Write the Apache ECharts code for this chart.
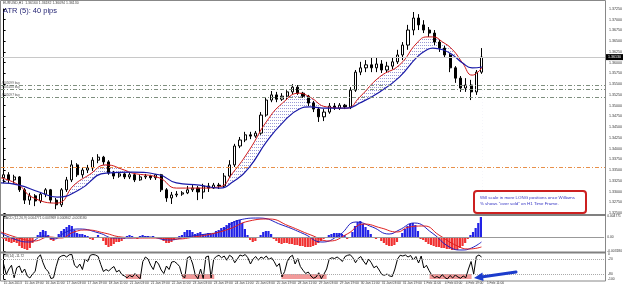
<!DOCTYPE html>
<html>
<head>
<meta charset="utf-8">
<script src="https://cdn.jsdelivr.net/npm/echarts@6/dist/echarts.min.js"></script>
<style>
html, body { margin: 0; padding: 0; background: #fff; }
#chart { width: 625px; height: 286px; }
</style>
</head>
<body>
<div id="chart"></div>
<script>
// EURUSD H1 (4h-Kerzen)
var dateLabels = ['15 Jan 2013', '15 Jan 19:00', '16 Jan 11:00', '17 Jan 03:00', '17 Jan 19:00', '18 Jan 11:00',
    '21 Jan 03:00', '21 Jan 19:00', '22 Jan 11:00', '23 Jan 03:00', '23 Jan 19:00', '24 Jan 11:00',
    '25 Jan 03:00', '25 Jan 19:00', '28 Jan 11:00', '29 Jan 03:00', '29 Jan 19:00', '30 Jan 11:00',
    '31 Jan 03:00', '31 Jan 19:00', '1 Feb 11:00', '4 Feb 03:00', '4 Feb 19:00', '5 Feb 11:00'];

// [open, close, low, high]
var candles = [
    [1.3332, 1.3339, 1.3322, 1.3345], [1.3339, 1.3327, 1.3320, 1.3345], [1.3327, 1.3334, 1.3318, 1.3339], [1.3334, 1.3304, 1.3299, 1.3336],
    [1.3304, 1.3280, 1.3271, 1.3308], [1.3280, 1.3290, 1.3269, 1.3297], [1.3290, 1.3278, 1.3266, 1.3294], [1.3278, 1.3294, 1.3273, 1.3299],
    [1.3294, 1.3304, 1.3287, 1.3308], [1.3304, 1.3280, 1.3273, 1.3306], [1.3280, 1.3269, 1.3259, 1.3285], [1.3269, 1.3304, 1.3264, 1.3308],
    [1.3304, 1.3327, 1.3299, 1.3334], [1.3327, 1.3362, 1.3322, 1.3373], [1.3362, 1.3339, 1.3334, 1.3366], [1.3339, 1.3350, 1.3332, 1.3357],
    [1.3350, 1.3355, 1.3343, 1.3362], [1.3355, 1.3373, 1.3348, 1.3380], [1.3373, 1.3380, 1.3366, 1.3387], [1.3380, 1.3369, 1.3362, 1.3383],
    [1.3369, 1.3343, 1.3339, 1.3373], [1.3343, 1.3336, 1.3329, 1.3348], [1.3336, 1.3341, 1.3332, 1.3345], [1.3341, 1.3334, 1.3329, 1.3343],
    [1.3334, 1.3339, 1.3329, 1.3345], [1.3339, 1.3327, 1.3322, 1.3341], [1.3327, 1.3334, 1.3325, 1.3339], [1.3334, 1.3336, 1.3329, 1.3341],
    [1.3336, 1.3332, 1.3327, 1.3339], [1.3332, 1.3339, 1.3327, 1.3341], [1.3339, 1.3304, 1.3299, 1.3341], [1.3304, 1.3285, 1.3276, 1.3308],
    [1.3285, 1.3292, 1.3271, 1.3299], [1.3292, 1.3294, 1.3287, 1.3301], [1.3294, 1.3297, 1.3290, 1.3301], [1.3297, 1.3304, 1.3294, 1.3313],
    [1.3304, 1.3308, 1.3299, 1.3315], [1.3308, 1.3299, 1.3280, 1.3313], [1.3299, 1.3313, 1.3283, 1.3318], [1.3313, 1.3308, 1.3299, 1.3320],
    [1.3308, 1.3315, 1.3306, 1.3320], [1.3315, 1.3313, 1.3306, 1.3320], [1.3313, 1.3336, 1.3308, 1.3343], [1.3336, 1.3362, 1.3332, 1.3373],
    [1.3362, 1.3406, 1.3357, 1.3411], [1.3406, 1.3420, 1.3401, 1.3427], [1.3420, 1.3432, 1.3415, 1.3439], [1.3432, 1.3429, 1.3422, 1.3439],
    [1.3429, 1.3436, 1.3425, 1.3441], [1.3436, 1.3478, 1.3432, 1.3485], [1.3478, 1.3513, 1.3474, 1.3518], [1.3513, 1.3525, 1.3508, 1.3534],
    [1.3525, 1.3515, 1.3508, 1.3532], [1.3515, 1.3522, 1.3511, 1.3529], [1.3522, 1.3532, 1.3513, 1.3536], [1.3532, 1.3543, 1.3527, 1.3550],
    [1.3543, 1.3529, 1.3525, 1.3548], [1.3529, 1.3522, 1.3518, 1.3532], [1.3522, 1.3506, 1.3499, 1.3525], [1.3506, 1.3492, 1.3485, 1.3511],
    [1.3492, 1.3474, 1.3462, 1.3497], [1.3474, 1.3485, 1.3464, 1.3492], [1.3485, 1.3499, 1.3481, 1.3506], [1.3499, 1.3494, 1.3490, 1.3506],
    [1.3494, 1.3501, 1.3490, 1.3506], [1.3501, 1.3497, 1.3492, 1.3504], [1.3497, 1.3536, 1.3492, 1.3543], [1.3536, 1.3578, 1.3532, 1.3583],
    [1.3578, 1.3588, 1.3571, 1.3602], [1.3588, 1.3595, 1.3578, 1.3606], [1.3595, 1.3588, 1.3578, 1.3611], [1.3588, 1.3597, 1.3578, 1.3613],
    [1.3597, 1.3583, 1.3576, 1.3606], [1.3583, 1.3592, 1.3576, 1.3602], [1.3592, 1.3602, 1.3585, 1.3611], [1.3602, 1.3618, 1.3597, 1.3630],
    [1.3618, 1.3641, 1.3606, 1.3648], [1.3641, 1.3676, 1.3630, 1.3688], [1.3676, 1.3704, 1.3664, 1.3718], [1.3704, 1.3688, 1.3676, 1.3713],
    [1.3688, 1.3676, 1.3669, 1.3699], [1.3676, 1.3669, 1.3660, 1.3683], [1.3669, 1.3648, 1.3641, 1.3676], [1.3648, 1.3634, 1.3625, 1.3653],
    [1.3634, 1.3618, 1.3611, 1.3639], [1.3618, 1.3588, 1.3578, 1.3622], [1.3588, 1.3564, 1.3553, 1.3592], [1.3564, 1.3541, 1.3532, 1.3569],
    [1.3541, 1.3548, 1.3532, 1.3564], [1.3548, 1.3532, 1.3513, 1.3560], [1.3532, 1.3578, 1.3525, 1.3583], [1.3578, 1.3613, 1.3574, 1.3634]
];

// gleitende Durchschnitte: [bar index, price]
var maRed = [[-0.5, 1.3332], [2.9, 1.3315], [5.4, 1.3287], [10.2, 1.3273], [13.4, 1.3315], [16.3, 1.3339], [19.5, 1.3362],
    [23, 1.3350], [24.5, 1.3343], [29.6, 1.3332], [32.9, 1.3308], [37.3, 1.3308], [41.1, 1.3311], [43.6, 1.3343],
    [46.8, 1.3397], [50, 1.3462], [53.1, 1.3506], [56.3, 1.3529], [58.3, 1.3520], [61.5, 1.3497], [65.3, 1.3494],
    [67.8, 1.3520], [71.6, 1.3567], [75.4, 1.3595], [78.7, 1.3646], [80.6, 1.3660], [81.7, 1.3660], [83.6, 1.3648],
    [85.5, 1.3630], [87.4, 1.3599], [89.2, 1.3571], [90.3, 1.3578], [91.1, 1.3590]];
var maBlue = [[-0.5, 1.3320], [2.9, 1.3315], [6.75, 1.3299], [10.2, 1.3287], [14.4, 1.3304], [19.5, 1.3343], [24.5, 1.3345],
    [29.6, 1.3339], [32.9, 1.3320], [37.3, 1.3315], [41.1, 1.3308], [43.6, 1.3322], [46.8, 1.3357], [50, 1.3415],
    [53.1, 1.3460], [56.3, 1.3492], [58.3, 1.3497], [61.5, 1.3494], [65.3, 1.3494], [67.8, 1.3506], [71.6, 1.3532],
    [75.4, 1.3567], [78.7, 1.3613], [80.6, 1.3630], [81.7, 1.3634], [83.6, 1.3630], [85.5, 1.3618], [87.4, 1.3599],
    [89.2, 1.3588], [91.1, 1.3590]];

var levelPrices = [1.3548, 1.3539, 1.3520];
var levelNames = ['#105099 buy', '#105100 buy', '#105097 buy'];
var stopPrice = 1.3357;
var lastPrice = 1.3613;

// MACD (half-bar steps)
var macdHist = [
    -0.00045, -0.00091, -0.00114, -0.00136, -0.00114, -0.00136, -0.00204, -0.0025, -0.00272, -0.00295,
    -0.0025, -0.00136, -0.00023, 0.00045, 0.00114, 0.00159, 0.00136, 0.00045, -0.00068, -0.00091,
    -0.00023, 0.00068, 0.00136, 0.00182, 0.00227, 0.00272, 0.0025, 0.00159, 0.00091, 0.00068,
    0.00068, 0.00045, 0.00023, -0.00045, -0.00068, -0.00023, 0.00045, 0, -0.00091, -0.00182,
    -0.00227, -0.00204, -0.00159, -0.00114, -0.00114, -0.00091, -0.00045, 0.00023, 0.00045, 0.00023,
    -0.00023, -0.00045, 0.00023, 0.00045, 0.00023, 0.00023, -0.00023, 0.00023, 0, -0.00023,
    -0.00045, -0.00091, -0.00136, -0.00136, -0.00114, -0.00068, -0.00023, 0.00023, 0.00045, 0.00114,
    0.00159, 0.00159, 0.00114, 0.00068, 0.00091, 0.00114, 0.00068, 0.00068, 0.00091, 0.00068,
    0.00091, 0.00136, 0.00159, 0.00204, 0.00227, 0.00272, 0.00318, 0.00341, 0.00363, 0.00386,
    0.00386, 0.00318, 0.00182, 0.00045, -0.00068, -0.00114, -0.00091, -0.00023, 0.00045, 0.00114,
    0.00136, 0.00136, 0.00068, -0.00045, -0.00091, -0.00136, -0.00159, -0.00136, -0.00136, -0.00159,
    -0.00159, -0.00182, -0.00182, -0.00204, -0.00204, -0.00227, -0.00227, -0.00227, -0.00204, -0.00182,
    -0.00136, -0.00091, -0.00045, -0.00023, 0.00045, 0.00068, 0.00091, 0.00091, 0.00091, 0.00068,
    0.00045, -0.00045, -0.00023, 0.00114, 0.0025, 0.00341, 0.00363, 0.00295, 0.00227, 0.00159,
    0.00068, -0.00023, -0.00045, -0.00023, -0.00091, -0.00136, -0.00182, -0.00204, -0.00204, -0.00182,
    -0.00114, -0.00023, 0.00091, 0.00182, 0.0025, 0.00295, 0.00318, 0.00272, 0.00136, -0.00045,
    -0.00068, -0.00114, -0.00159, -0.00182, -0.00204, -0.00227, -0.00227, -0.0025, -0.0025, -0.00272,
    -0.00272, -0.00295, -0.00295, -0.00295, -0.0025, -0.00204, -0.00136, -0.00045, 0.00045, 0.00114,
    0.00204, 0.00318, 0.00454
];
var macdMain = [[-0.5, 0.00091], [2, -0.00045], [4.8, -0.00114], [7.7, 0.00023], [9.6, -0.00045], [11.9, 0.00114],
    [14.4, 0.00182], [18.2, 0.00091], [21.1, -0.00023], [23.3, -0.00023], [27.7, 0], [31.5, -0.00068], [34.8, 0],
    [38.6, 0.00068], [41.1, 0.00114], [44.9, 0.00386], [48.7, 0.00431], [53.1, 0.00272], [57.3, 0.00068],
    [60.7, -0.00114], [64, 0.00045], [67.2, 0.00341], [70.3, 0.00227], [73.5, 0.00068], [75.4, 0.00159],
    [78.3, 0.00318], [81.7, 0.00091], [85, -0.00227], [87.4, -0.00295], [89.2, -0.0025], [91.1, -0.00114]];
var macdSignal = [[-0.5, 0.00114], [2.9, -0.00023], [5.8, -0.00091], [8.7, 0], [10.9, -0.00023], [13.4, 0.00114],
    [15.9, 0.00159], [19.2, 0.00091], [22.4, 0], [25.8, -0.00023], [29.6, -0.00023], [33.1, -0.00045], [36.3, 0],
    [39.6, 0.00068], [43, 0.00182], [46.8, 0.00363], [50.6, 0.00409], [54.4, 0.0025], [58.6, 0.00045],
    [62.1, -0.00091], [65.5, 0.00068], [68.7, 0.00295], [72, 0.00204], [75, 0.00114], [77.3, 0.00227],
    [80.2, 0.0025], [83, 0.00045], [86.5, -0.00204], [88.8, -0.00272], [91.1, -0.00227]];
var macdTicks = [0.004771, 0, -0.00318];

// Williams %R (half-bar steps)
var willR = [
    -40, -82, -60, -45, -95, -55, -48, -75, -60, -88, -96, -80, -70, -15, -3, -35, -60, -70, -98, -95,
    -50, -15, -8, -5, -12, -3, -2, -45, -55, -40, -62, -20, -30, -5, -2, -4, -10, -42, -70, -62,
    -68, -58, -50, -72, -65, -82, -88, -95, -85, -92, -78, -90, -99, -30, -12, -20, -45, -62, -28, -40,
    -64, -78, -48, -62, -32, -30, -38, -50, -88, -95, -15, -10, -40, -85, -99, -60, -98, -12, -8, -96,
    -20, -10, -5, -15, -8, -25, -5, -12, -35, -20, -4, -8, -2, -15, -40, -20, -10, -25, -12, -18,
    -8, -22, -15, -30, -50, -38, -92, -70, -30, -12, -5, -40, -18, -50, -65, -78, -72, -88, -97, -92,
    -75, -99, -80, -60, -20, -15, -18, -12, -20, -30, -10, -5, -3, -15, -35, -18, -10, -28, -42, -20,
    -35, -55, -48, -64, -82, -85, -80, -88, -90, -60, -20, -5, -8, -4, -12, -6, -24, -10, -36, -8,
    -56, -45, -66, -84, -95, -90, -96, -82, -94, -100, -86, -96, -84, -92, -97, -88, -95, -60, -30, -80,
    -10, -4, -12
];
var willTicks = [0, -20, -80, -100];
var oversoldZones = [[23.3, 26.2], [34.0, 40.1], [52.9, 61.5], [81.1, 89.1]];

var totalBars = 115;
var cats = [];
for (var i = 0; i < totalBars; i++) cats.push('b' + i);

// Schraffur zwischen den MAs
var hatch = document.createElement('canvas');
hatch.width = 2;
hatch.height = 3;
var hc = hatch.getContext('2d');
hc.fillStyle = '#9a9ad6';
hc.fillRect(0, 0, 1, 1);

var font = 'Liberation Sans, Arial, sans-serif';
var myChart = echarts.init(document.getElementById('chart'), null, { renderer: 'canvas' });

var levelLines = levelPrices.map(function(p, k) {
    return {
        yAxis: p,
        lineStyle: { color: '#7f8f7f', type: [4, 2, 1, 2], width: 1 },
        label: { show: true, position: 'insideStartTop', formatter: levelNames[k], fontSize: 3.2, color: '#555', distance: 0.5, fontFamily: font }
    };
});
levelLines.push({
    yAxis: stopPrice,
    lineStyle: { color: '#e8904a', type: [4, 2, 1, 2], width: 1, opacity: 1 },
    label: { show: false }
});
levelLines.push({
    yAxis: lastPrice,
    lineStyle: { color: '#c8c8c8', type: 'solid', width: 1 },
    label: {
        show: true, position: 'end', formatter: lastPrice.toFixed(5), backgroundColor: '#000', color: '#fff',
        fontSize: 3.6, padding: [1, 2], distance: 1, fontFamily: font
    }
});

var option = {
    animation: false,
    backgroundColor: '#fff',
    grid: [
        { left: 1, right: 20, top: 9, height: 204 },
        { left: 1, right: 20, top: 216, height: 35 },
        { left: 1, right: 20, top: 254, height: 25 }
    ],
    xAxis: [
        { type: 'category', gridIndex: 0, data: cats, show: false, boundaryGap: true },
        { type: 'value', gridIndex: 0, min: -0.5, max: totalBars - 0.5, show: false },
        { type: 'value', gridIndex: 1, min: -0.5, max: totalBars - 0.5, show: false },
        { type: 'value', gridIndex: 2, min: -0.5, max: totalBars - 0.5, show: false },
        {
            type: 'category', gridIndex: 2, data: cats, boundaryGap: true, position: 'bottom',
            axisLine: { show: false }, axisTick: { show: false },
            axisLabel: {
                interval: 0, fontSize: 3.3, color: '#333', margin: 3, align: 'left', fontFamily: font,
                formatter: function(v, idx) {
                    return idx % 4 === 0 && dateLabels[idx / 4] ? dateLabels[idx / 4] : '';
                }
            }
        }
    ],
    yAxis: [
        {
            type: 'value', gridIndex: 0, position: 'right', min: 1.3250, max: 1.3725, interval: 0.0025,
            axisLine: { show: true, lineStyle: { color: '#000' } },
            axisTick: { show: true, length: 2, lineStyle: { color: '#000' } },
            splitLine: { show: false },
            axisLabel: { fontSize: 3.6, color: '#333', margin: 4, fontFamily: font, formatter: function(v) { return v.toFixed(5); } }
        },
        {
            type: 'value', gridIndex: 1, position: 'right', min: macdTicks[2], max: macdTicks[0],
            axisLine: { show: true, lineStyle: { color: '#000' } },
            axisTick: { show: true, length: 2, customValues: macdTicks },
            splitLine: { show: false },
            axisLabel: {
                fontSize: 3.3, color: '#333', margin: 3, fontFamily: font, customValues: macdTicks,
                formatter: function(v) { return v === 0 ? '0.00' : v.toFixed(6); }
            }
        },
        {
            type: 'value', gridIndex: 2, position: 'right', min: -100, max: 0,
            axisLine: { show: true, lineStyle: { color: '#000' } },
            axisTick: { show: true, length: 2, customValues: willTicks },
            splitLine: { show: false },
            axisLabel: { fontSize: 3.3, color: '#333', margin: 3, fontFamily: font, customValues: willTicks }
        }
    ],
    series: [
        {
            type: 'line', xAxisIndex: 1, yAxisIndex: 0, data: maRed, smooth: true, showSymbol: false, z: 1,
            lineStyle: { width: 0, opacity: 0 },
            areaStyle: { color: { image: hatch, repeat: 'repeat' }, opacity: 1, origin: 'start' }
        },
        {
            type: 'line', xAxisIndex: 1, yAxisIndex: 0, data: maBlue, smooth: true, showSymbol: false, z: 2,
            lineStyle: { width: 0, opacity: 0 },
            areaStyle: { color: '#fff', opacity: 1, origin: 'start' }
        },
        {
            type: 'candlestick', xAxisIndex: 0, yAxisIndex: 0, data: candles, barWidth: 2.6, z: 3,
            itemStyle: { color: '#fff', color0: '#000', borderColor: '#000', borderColor0: '#000', borderWidth: 1 }
        },
        {
            type: 'line', xAxisIndex: 1, yAxisIndex: 0, data: maRed, smooth: true, showSymbol: false, z: 4,
            lineStyle: { color: '#d01818', width: 1 },
            markLine: { symbol: 'none', silent: true, animation: false, precision: 5, data: levelLines }
        },
        {
            type: 'line', xAxisIndex: 1, yAxisIndex: 0, data: maBlue, smooth: true, showSymbol: false, z: 4,
            lineStyle: { color: '#1a1aa8', width: 1.2 }
        },
        {
            type: 'bar', xAxisIndex: 2, yAxisIndex: 1, barWidth: 2.2, z: 2,
            data: macdHist.map(function(v, j) { return [j / 2, v]; }),
            itemStyle: { color: function(p) { return p.value[1] >= 0 ? '#2222e6' : '#f03030'; } },
            markLine: {
                symbol: 'none', silent: true, animation: false, precision: 6,
                data: [{ yAxis: 0, lineStyle: { color: '#999', type: 'solid', width: 1 }, label: { show: false } }]
            }
        },
        {
            type: 'line', xAxisIndex: 2, yAxisIndex: 1, data: macdMain, smooth: true, showSymbol: false, z: 3,
            lineStyle: { color: '#2020c0', width: 1 }
        },
        {
            type: 'line', xAxisIndex: 2, yAxisIndex: 1, data: macdSignal, smooth: true, showSymbol: false, z: 3,
            lineStyle: { color: '#e02020', width: 1 }
        },
        {
            type: 'line', xAxisIndex: 3, yAxisIndex: 2, showSymbol: false, z: 3,
            data: willR.map(function(v, j) { return [j / 2, v]; }),
            lineStyle: { color: '#000', width: 1 },
            markArea: {
                silent: true,
                itemStyle: { color: '#f29a9a' },
                data: oversoldZones.map(function(z) { return [{ xAxis: z[0], yAxis: -80 }, { xAxis: z[1], yAxis: -100 }]; })
            },
            markLine: {
                symbol: 'none', silent: true, animation: false,
                data: [
                    { yAxis: -20, lineStyle: { color: '#aaa', type: 'dotted', width: 1 }, label: { show: false } },
                    { yAxis: -80, lineStyle: { color: '#aaa', type: 'dotted', width: 1 }, label: { show: false } }
                ]
            }
        }
    ],
    graphic: [
        { type: 'rect', z: 50, shape: { x: 0.5, y: 0.5, width: 605, height: 280.5 }, style: { fill: 'none', stroke: '#888', lineWidth: 1 } },
        { type: 'rect', z: 50, shape: { x: 0, y: 214, width: 606, height: 2 }, style: { fill: '#808080' } },
        { type: 'rect', z: 50, shape: { x: 0, y: 251.5, width: 606, height: 2 }, style: { fill: '#808080' } },
        { type: 'text', z: 50, left: 3, top: 1.5, style: { text: 'EURUSD,H1  1.36160 1.36182 1.36094 1.36130', fontSize: 3.5, fill: '#444', fontFamily: font } },
        { type: 'text', z: 50, left: 3, top: 7, style: { text: 'ATR (5): 40 pips', fontSize: 7.5, fill: '#1e1e70', fontFamily: font } },
        { type: 'text', z: 50, left: 3, top: 217, style: { text: 'MACD (12,26,9) 0.004771 0.003969 0.000802 -0.003180', fontSize: 3.3, fill: '#444', fontFamily: font } },
        { type: 'text', z: 50, left: 3, top: 254.5, style: { text: '%R(14) -11.72', fontSize: 3.3, fill: '#444', fontFamily: font } },
        {
            type: 'rect', z: 60, shape: { x: 474, y: 191, width: 112, height: 22, r: 3 },
            style: { fill: '#fff', stroke: '#cc2020', lineWidth: 2 }
        },
        { type: 'text', z: 61, left: 480, top: 195.5, style: { text: 'Will scale in more LONG positions once Williams', fontSize: 4.4, fill: '#3434c4', fontFamily: font } },
        { type: 'text', z: 61, left: 480, top: 202, style: { text: '% shows "over sold" on H1 Time Frame.', fontSize: 4.4, fill: '#3434c4', fontFamily: font } },
        { type: 'polyline', z: 60, shape: { points: [[516, 272], [483, 276.8]] }, style: { stroke: '#1c3ccc', lineWidth: 3, lineCap: 'round' } },
        { type: 'polygon', z: 60, shape: { points: [[474, 278], [483.6, 280.9], [482.4, 272.5]] }, style: { fill: '#1c3ccc' } }
    ]
};

myChart.setOption(option);
</script>
</body>
</html>
